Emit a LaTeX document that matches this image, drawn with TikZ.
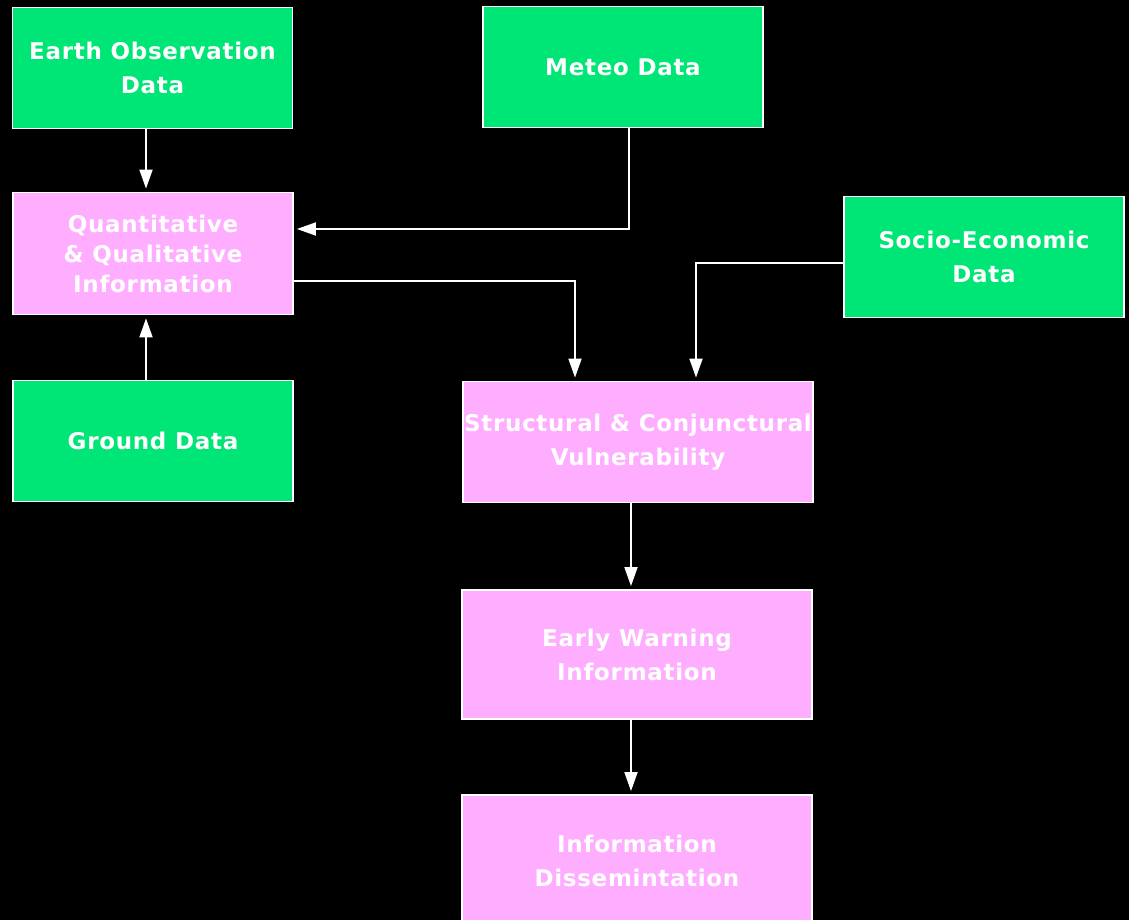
\documentclass[tikz,border=0pt]{standalone}
\usepackage{fontspec}
\setmainfont{DejaVu Sans}[LetterSpace=3]
\usetikzlibrary{arrows.meta}
\definecolor{datagreen}{RGB}{0,230,118}
\definecolor{infopink}{RGB}{255,174,255}
\begin{document}
\begin{tikzpicture}[x=1pt,y=-1pt,
  box/.style={draw=white, line width=1.8pt, inner sep=0pt, align=center,
    text=white, font=\fontsize{23}{34}\selectfont\bfseries},
  datanode/.style={box, fill=datagreen, minimum width=280pt, minimum height=121pt},
  infonode/.style={box, fill=infopink},
  arr/.style={draw=white, line width=1.8pt,
    -{Triangle[width=13pt,length=19pt]}, shorten >=3pt}]
\fill[black] (0,0) rectangle (1129,920);
\useasboundingbox (0,0) rectangle (1129,920);

% source data
\node[datanode] (eo) at (152.5,68) {Earth Observation\\Data};
\node[datanode] (meteo) at (623,67) {Meteo Data};
\node[datanode] (ground) at (153,441) {Ground Data};
\node[datanode] (socio) at (984,257) {Socio-Economic\\Data};

% derived information
\node[infonode, minimum width=280pt, minimum height=122pt,
  font=\fontsize{23}{30}\selectfont\bfseries] (qqi) at (153,253.5)
  {Quantitative\\\& Qualitative\\Information};
\node[infonode, minimum width=350pt, minimum height=121pt] (scv) at (638,442)
  {Structural \& Conjunctural\\Vulnerability};
\node[infonode, minimum width=350pt, minimum height=129pt] (ewi) at (637,654.5)
  {Early Warning\\Information};
\node[infonode, minimum width=350pt, minimum height=132pt] (dis) at (637,861)
  {Information\\Dissemintation};

% flows
\draw[arr] ([xshift=-6.5pt]eo.south) -- ([xshift=-7pt]qqi.north);
\draw[arr] ([xshift=6pt]meteo.south) |- ([yshift=24.5pt]qqi.east);
\draw[arr] ([xshift=-7pt]ground.north) -- ([xshift=-7pt]qqi.south);
\draw[arr] ([yshift=-27.5pt]qqi.east) -| ([xshift=-63pt]scv.north);
\draw[arr] ([yshift=-6pt]socio.west) -| ([xshift=58pt]scv.north);
\draw[arr] ([xshift=-7pt]scv.south) -- ([xshift=-6pt]ewi.north);
\draw[arr] ([xshift=-6pt]ewi.south) -- ([xshift=-6pt]dis.north);
\end{tikzpicture}
\end{document}
